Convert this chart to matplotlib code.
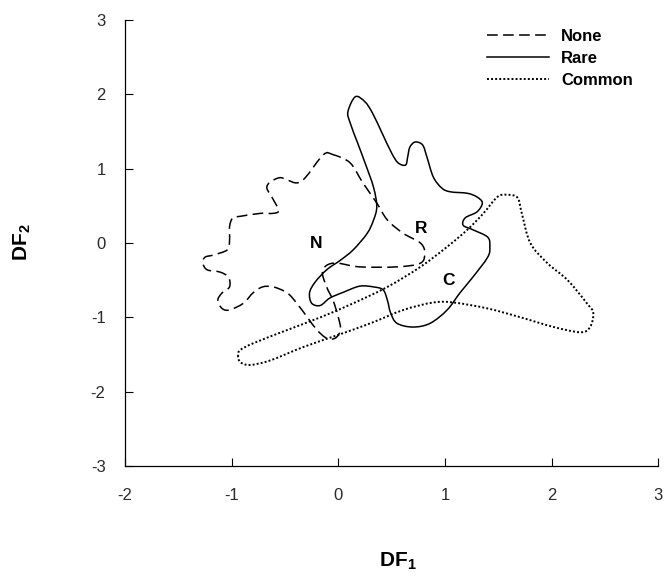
import numpy as np
import matplotlib
matplotlib.use('Agg')
import matplotlib.pyplot as plt
from matplotlib.path import Path
from matplotlib.patches import PathPatch
from matplotlib.lines import Line2D

plt.rcParams['font.family'] = ['Liberation Sans', 'DejaVu Sans']
plt.rcParams['mathtext.fontset'] = 'custom'
plt.rcParams['mathtext.rm'] = 'Liberation Sans'
plt.rcParams['mathtext.bf'] = 'Liberation Sans:bold'
plt.rcParams['axes.unicode_minus'] = False

# outline of each group, traced round the contour (DF1, DF2)
none_x = [-0.05, -0.14, -0.31, -0.39, -0.48, -0.55, -0.64, -0.67, -0.62, -0.56,
          -0.61, -0.73, -0.92, -0.99, -1.02, -1.02, -1.04, -1.17, -1.25, -1.27,
          -1.23, -1.11, -1.03, -1.02, -1.09, -1.13, -1.09, -1.02, -0.89, -0.80,
          -0.71, -0.61, -0.48, -0.39, -0.29, -0.20, -0.11, -0.03, 0.02, 0.00,
          -0.05, -0.11, -0.15, -0.11, -0.01, 0.20, 0.55, 0.77, 0.81, 0.77,
          0.61, 0.46, 0.36, 0.23, 0.11]
none_y = [1.19, 1.19, 0.88, 0.81, 0.85, 0.88, 0.82, 0.74, 0.61, 0.44,
          0.40, 0.40, 0.36, 0.34, 0.22, 0.04, -0.09, -0.16, -0.19, -0.27,
          -0.36, -0.39, -0.46, -0.59, -0.67, -0.77, -0.88, -0.90, -0.81, -0.67,
          -0.59, -0.59, -0.67, -0.81, -1.00, -1.17, -1.28, -1.28, -1.17, -1.00,
          -0.77, -0.59, -0.40, -0.30, -0.27, -0.32, -0.32, -0.27, -0.13, 0.00,
          0.13, 0.31, 0.54, 0.81, 1.08]

rare_x = [0.09, 0.16, 0.25, 0.32, 0.41, 0.50, 0.56, 0.63, 0.65, 0.67,
          0.72, 0.79, 0.83, 0.89, 0.97, 1.05, 1.21, 1.30, 1.35, 1.30,
          1.19, 1.17, 1.26, 1.40, 1.42, 1.40, 1.26, 1.14, 1.02, 0.86,
          0.70, 0.55, 0.49, 0.46, 0.42, 0.33, 0.20, 0.05, -0.08, -0.17,
          -0.25, -0.27, -0.22, -0.11, 0.02, 0.14, 0.27, 0.33, 0.36, 0.33,
          0.25, 0.18, 0.11]
rare_y = [1.77, 1.97, 1.90, 1.75, 1.48, 1.21, 1.08, 1.05, 1.16, 1.29,
          1.36, 1.32, 1.16, 0.89, 0.74, 0.69, 0.67, 0.62, 0.54, 0.42,
          0.34, 0.24, 0.18, 0.08, -0.05, -0.19, -0.46, -0.67, -0.90, -1.08,
          -1.13, -1.08, -0.94, -0.77, -0.63, -0.59, -0.58, -0.66, -0.74, -0.84,
          -0.81, -0.67, -0.53, -0.36, -0.23, -0.09, 0.13, 0.31, 0.49, 0.75,
          1.08, 1.35, 1.62]

common_x = [-0.94, -0.92, -0.83, -0.64, -0.33, -0.01, 0.30, 0.61, 0.89, 1.08,
            1.40, 1.71, 2.02, 2.27, 2.36, 2.39, 2.33, 2.15, 1.96, 1.80,
            1.72, 1.68, 1.58, 1.49, 1.36, 1.21, 1.02, 0.77, 0.46, 0.14,
            -0.17, -0.48, -0.80, -0.92]
common_y = [-1.51, -1.60, -1.64, -1.58, -1.40, -1.24, -1.08, -0.90, -0.80, -0.80,
            -0.88, -1.00, -1.13, -1.20, -1.13, -0.94, -0.81, -0.50, -0.27, 0.00,
            0.40, 0.61, 0.65, 0.62, 0.40, 0.18, -0.05, -0.32, -0.59, -0.81,
            -1.00, -1.17, -1.35, -1.44]

groups = ['None', 'Rare', 'Common']
tags = ['N', 'R', 'C']
tag_x = [-0.21, 0.78, 1.03]
tag_y = [0.00, 0.19, -0.50]


def closed_path(xs, ys):
    # smooth closed curve through the traced points (catmull-rom as beziers)
    P = np.column_stack([xs, ys])
    n = len(P)
    verts = [P[0]]
    codes = [Path.MOVETO]
    for i in range(n):
        p0, p1, p2, p3 = P[i-1], P[i], P[(i+1) % n], P[(i+2) % n]
        verts += [p1 + (p2 - p0)/6, p2 - (p3 - p1)/6, p2]
        codes += [Path.CURVE4]*3
    return Path(verts, codes)


styles = [(0, (7, 3.5)), '-', (0, (1, 1.1))]
widths = [1.1, 1.1, 1.4]
outlines = [(none_x, none_y), (rare_x, rare_y), (common_x, common_y)]

fig = plt.figure(figsize=(6.65, 5.76), dpi=100)
ax = fig.add_axes([0.188, 0.191, 0.802, 0.774])

handles = []
for (xs, ys), ls, lw, name in zip(outlines, styles, widths, groups):
    ax.add_patch(PathPatch(closed_path(xs, ys), fill=False, edgecolor='k', lw=lw, linestyle=ls))
    handles.append(Line2D([], [], color='k', lw=lw, linestyle=ls, label=name))

for t, x, y in zip(tags, tag_x, tag_y):
    ax.text(x, y, t, ha='center', va='center', fontsize=12.5, fontweight='bold')

ax.set_xlim(-2, 3)
ax.set_ylim(-3, 3)
ax.set_xticks(range(-2, 4))
ax.set_yticks(range(-3, 4))
for s in ['top', 'right']:
    ax.spines[s].set_visible(False)
for s in ['left', 'bottom']:
    ax.spines[s].set_linewidth(0.9)
ax.tick_params(direction='in', length=6, width=0.8, labelsize=12, labelcolor='#2a2a2a')
ax.tick_params(axis='x', pad=15.5)
ax.tick_params(axis='y', pad=14)

ax.set_xlabel(r'DF$_\mathbf{1}$', fontsize=15, fontweight='bold')
ax.set_ylabel(r'DF$_\mathbf{2}$', fontsize=15, fontweight='bold')
ax.xaxis.set_label_coords(0.512, -0.189)
ax.yaxis.set_label_coords(-0.173, 0.503)

leg = ax.legend(handles=handles, loc='upper left', bbox_to_anchor=(0.679, 0.981),
                frameon=False, handlelength=3.7, handletextpad=0.75, labelspacing=0.42,
                borderpad=0, borderaxespad=0, prop={'size': 12, 'weight': 'bold'})

fig.savefig('out.png', dpi=100)
